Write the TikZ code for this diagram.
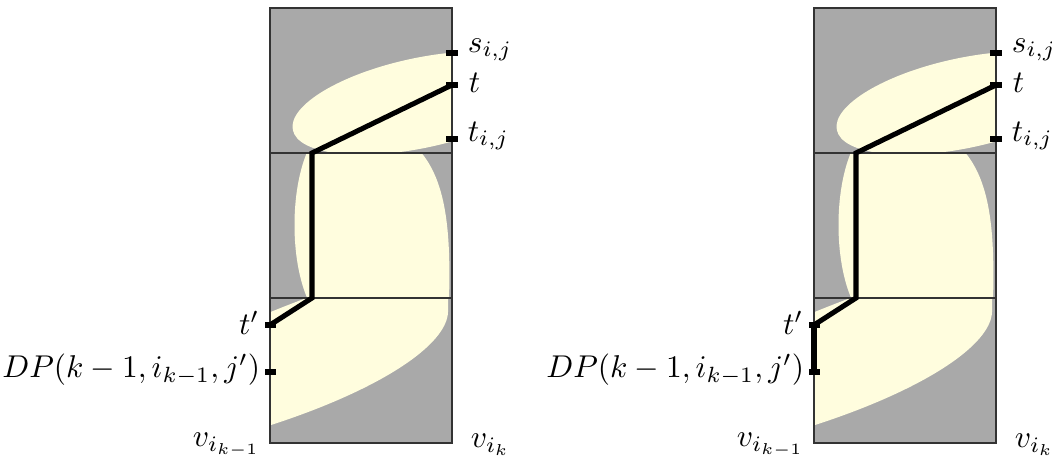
\documentclass[tikz,border=0pt]{standalone}
\usepackage{amsmath}
\definecolor{freespace}{RGB}{255,253,222}
\definecolor{blocked}{RGB}{169,169,169}

\begin{document}
\begin{tikzpicture}[
    x=0.3175pt, y=-0.3175pt,
    cell/.style={draw=black!80, line width=0.4pt},
    free/.style={fill=freespace},
    route/.style={draw=black, line width=1.6pt},
    tickmark/.style={draw=black, line width=1.6pt},
    lbl/.style={inner sep=1pt}
]
    \useasboundingbox (0,0) rectangle (1052,459);

    \foreach \dx/\p in {0/L,544/R}{
    \begin{scope}[shift={(\dx,0)}]
        % blocked space
        \fill[blocked] (270,8) rectangle (452,443);

        % free space, upper cell
        \begin{scope}
            \clip (270,8) rectangle (452,153);
            \fill[free, rotate around={12:(420,103)}] (420,103) ellipse (130 and 45);
        \end{scope}
        % free space, middle cell
        \begin{scope}
            \clip (270,153) rectangle (452,298);
            \fill[free] (308,150) .. controls (290,190) and (290,260) .. (308,300)
                -- (449,300) .. controls (451,230) and (446,180) .. (419,150) -- cycle;
        \end{scope}
        % free space, lower cell
        \begin{scope}
            \clip (270,298) rectangle (452,443);
            \fill[free] (268,313) .. controls (283,307) and (298,301) .. (312,296)
                -- (448,296) -- (448,312) .. controls (447,345) and (380,390) .. (268,426) -- cycle;
        \end{scope}

        % cells
        \draw[cell] (270,8) rectangle (452,443);
        \draw[cell] (270,153) -- (452,153) (270,298) -- (452,298);

        % points
        \coordinate (sij\p) at (452,53);
        \coordinate (t\p) at (452,85);
        \coordinate (tij\p) at (452,139);
        \coordinate (upper\p) at (312,153);
        \coordinate (lower\p) at (312,298);
        \coordinate (tp\p) at (270,325);
        \coordinate (dp\p) at (270,372);

        % ticks
        \foreach \q in {sij,t,tij}
            \draw[tickmark] ([xshift=-6*0.3175pt]\q\p) -- ([xshift=6*0.3175pt]\q\p);
        \foreach \q in {tp,dp}
            \draw[tickmark] ([xshift=-5*0.3175pt]\q\p) -- ([xshift=6*0.3175pt]\q\p);

        % labels
        \node[lbl, anchor=west] (sijlbl\p) at (464,50) {$s_{i,j}$};
        \node[lbl, anchor=west] (tlbl\p) at (465,83) {$t$};
        \node[lbl, anchor=west] (tijlbl\p) at (464,136) {$t_{i,j}$};
        \node[lbl, anchor=east] (tplbl\p) at (263,323) {$t'$};
        \node[lbl, anchor=east] (dplbl\p) at (264,370) {$DP(k-1,i_{k-1},j')$};
        \node[lbl, anchor=east] (vleft\p) at (264,445) {$v_{i_{k-1}}$};
        \node[lbl, anchor=west] (vright\p) at (467,445) {$v_{i_k}$};

        % path
        \draw[route] (t\p) -- (upper\p) -- (lower\p) -- (tp\p);
    \end{scope}
    }
    \draw[route] (tpR) -- (dpR);

\end{tikzpicture}
\end{document}
